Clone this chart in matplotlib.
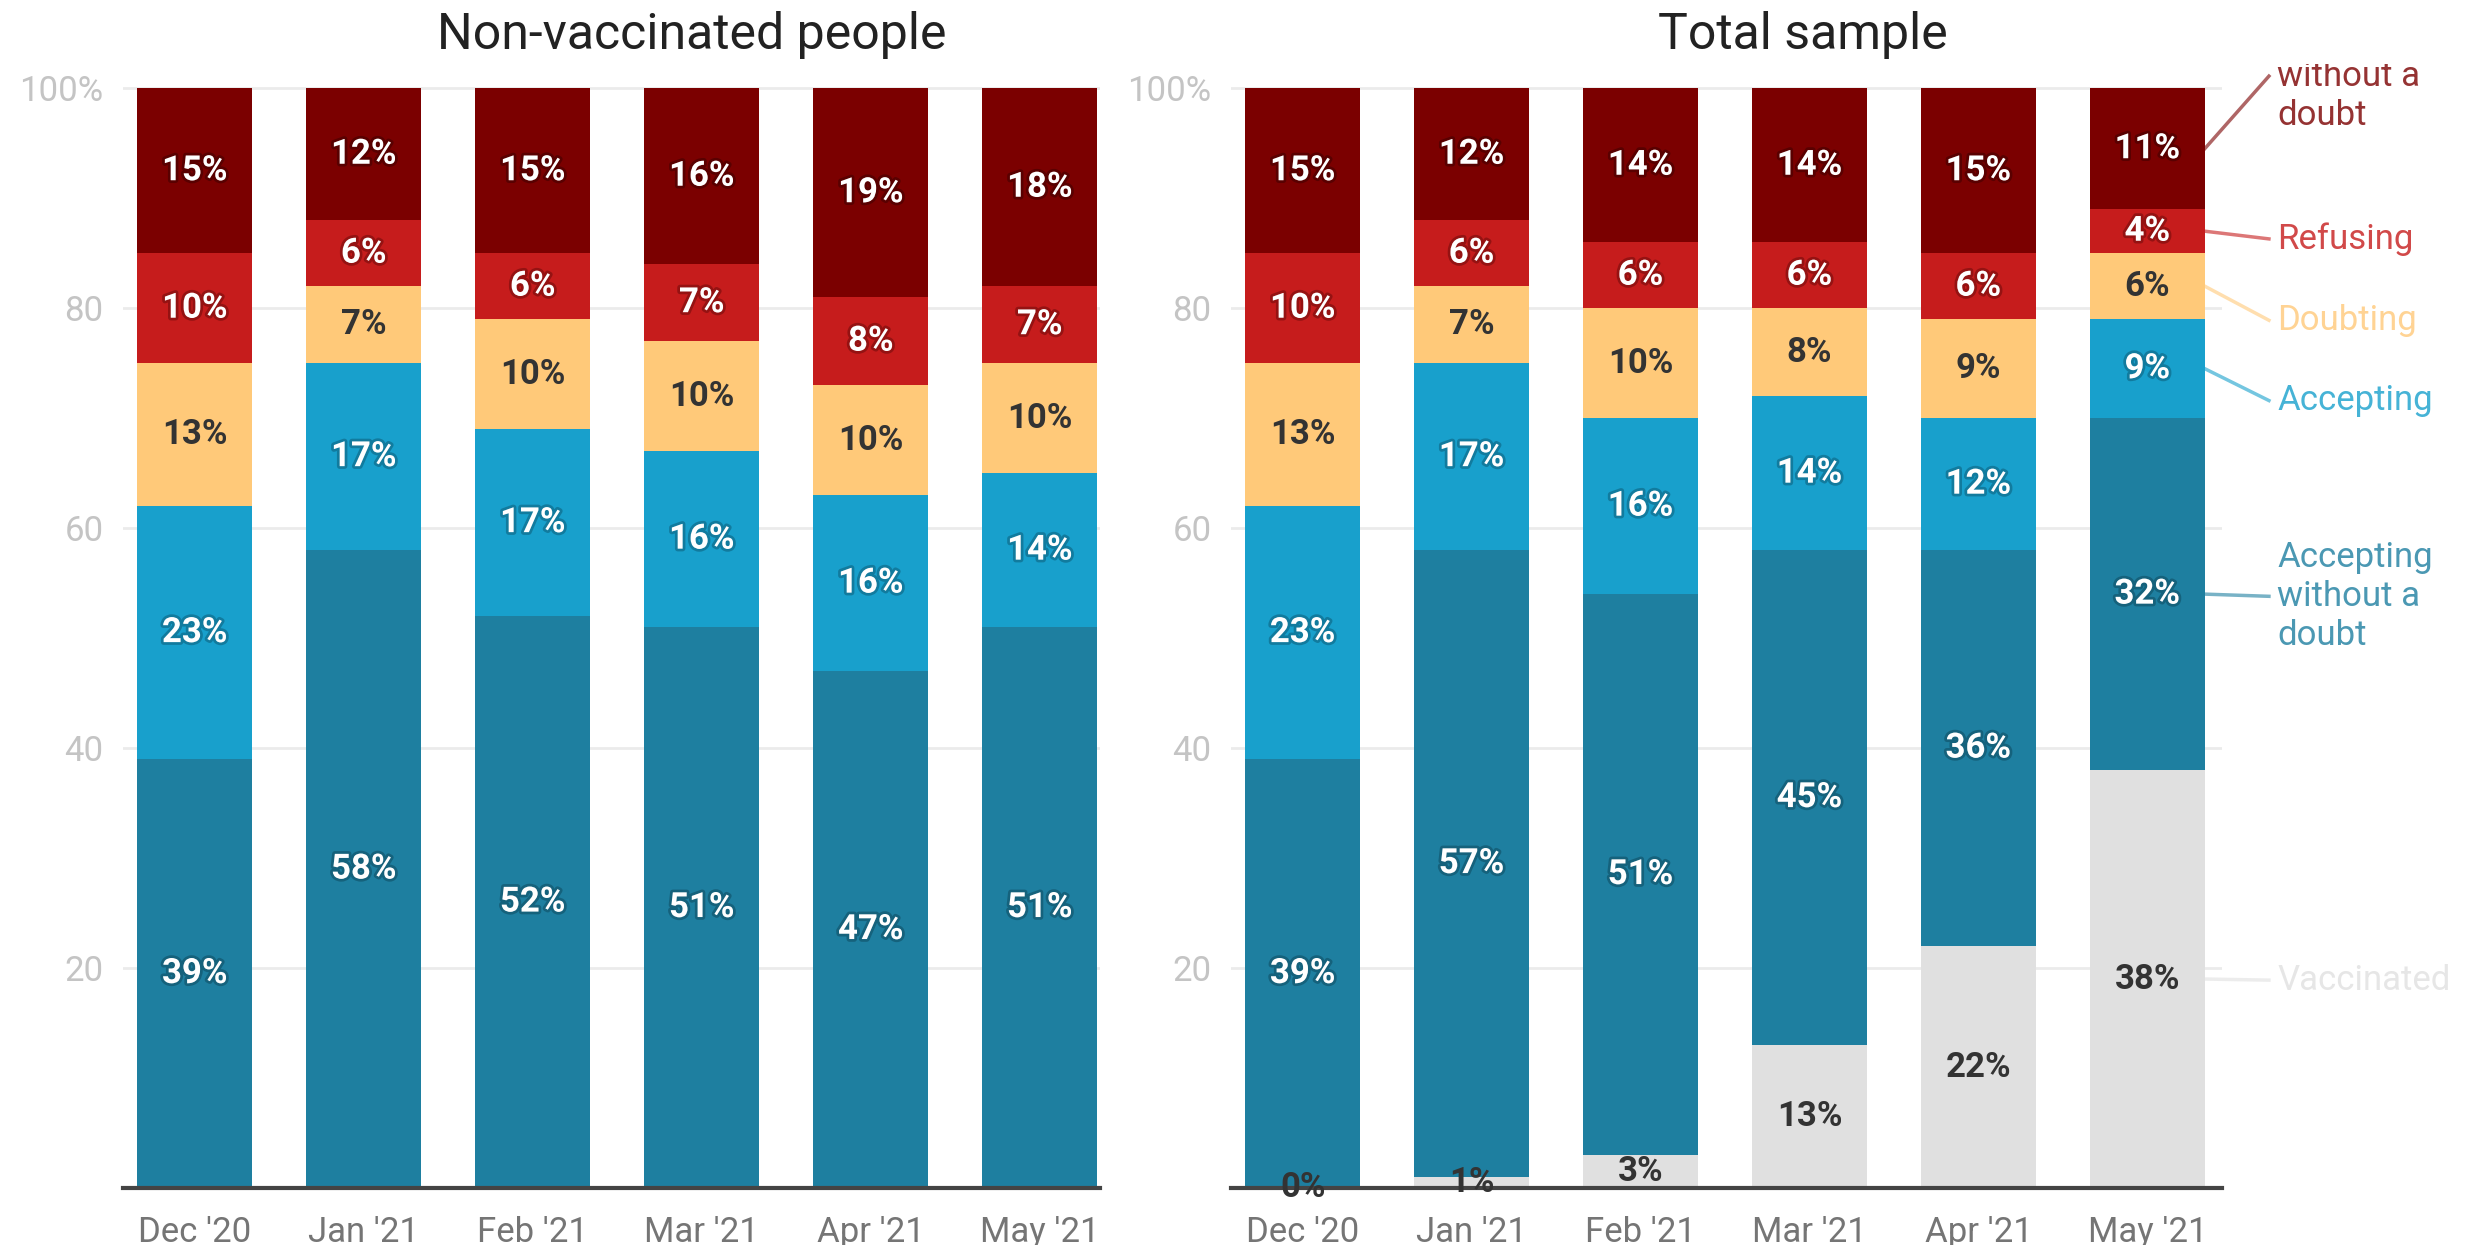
import numpy as np
import matplotlib
matplotlib.use('Agg')
import matplotlib.pyplot as plt
import matplotlib.patheffects as pe
from matplotlib.transforms import Bbox, TransformedBbox

plt.rcParams['font.family'] = ['Roboto', 'DejaVu Sans']

months = ["Dec '20", "Jan '21", "Feb '21", "Mar '21", "Apr '21", "May '21"]

# Non-vaccinated people (%), bottom to top
nv_accept_sure = [39, 58, 52, 51, 47, 51]
nv_accept = [23, 17, 17, 16, 16, 14]
nv_doubt = [13, 7, 10, 10, 10, 10]
nv_refuse = [10, 6, 6, 7, 8, 7]
nv_refuse_sure = [15, 12, 15, 16, 19, 18]

# Total sample (%), bottom to top
ts_vaccinated = [0, 1, 3, 13, 22, 38]
ts_accept_sure = [39, 57, 51, 45, 36, 32]
ts_accept = [23, 17, 16, 14, 12, 9]
ts_doubt = [13, 7, 10, 8, 9, 6]
ts_refuse = [10, 6, 6, 6, 6, 4]
ts_refuse_sure = [15, 12, 14, 14, 15, 11]

series_names = ['Vaccinated', 'Accepting\nwithout a\ndoubt', 'Accepting',
                'Doubting', 'Refusing', 'Refusing\nwithout a\ndoubt']
colors = ['#e0e0e0', '#1e7fa0', '#18a0cc', '#ffc979', '#c61c1c', '#7b0000']
text_colors = ['#333333', 'white', 'white', '#333333', 'white', 'white']
halo_colors = [None, '#0b3f52', '#0a4f68', None, '#5a0808', '#300000']

# where the right-hand series labels sit (y in data units)
legend_y = [18.9, 53.8, 71.6, 78.9, 86.3, 101.1]

bar_w = 0.68

fig = plt.figure(figsize=(24.74, 12.45), dpi=100)
ax1 = fig.add_axes([0.0497, 0.0458, 0.3949, 0.8851])
ax2 = fig.add_axes([0.4976, 0.0458, 0.4006, 0.8851])


def stacked(ax, layers, cols, tcols, hcols):
    x = np.arange(len(months))
    bottom = np.zeros(len(months))
    for vals, c, tc, hc in zip(layers, cols, tcols, hcols):
        vals = np.array(vals, dtype=float)
        ax.bar(x, vals, width=bar_w, bottom=bottom, color=c, linewidth=0, zorder=2)
        effects = [pe.withStroke(linewidth=4, foreground=hc, alpha=0.45)] if hc else None
        for xi, b, v in zip(x, bottom, vals):
            ax.text(xi, b + v / 2, f'{v:.0f}%', ha='center', va='center',
                    fontsize=25, fontweight='bold', color=tc, zorder=5,
                    path_effects=effects)
        bottom += vals
    return bottom


stacked(ax1, [nv_accept_sure, nv_accept, nv_doubt, nv_refuse, nv_refuse_sure],
        colors[1:], text_colors[1:], halo_colors[1:])
stacked(ax2, [ts_vaccinated, ts_accept_sure, ts_accept, ts_doubt, ts_refuse, ts_refuse_sure],
        colors, text_colors, halo_colors)

for ax, xlim in ((ax1, (-0.425, 5.356)), (ax2, (-0.424, 5.443))):
    ax.set_xlim(*xlim)
    ax.set_ylim(0, 100.2)
    ax.set_xticks(np.arange(len(months)))
    ax.set_xticklabels(months)
    ax.set_yticks([20, 40, 60, 80, 100])
    ax.set_yticklabels(['20', '40', '60', '80', '100%'])
    ax.grid(axis='y', color='#ebebeb', linewidth=2, zorder=0)
    ax.set_axisbelow(True)
    ax.tick_params(axis='y', length=0, pad=14, labelsize=25, labelcolor='#c4c4c4')
    ax.tick_params(axis='x', length=0, pad=20, labelsize=25, labelcolor='#757575')
    for s in ['top', 'right', 'left']:
        ax.spines[s].set_visible(False)
    ax.spines['bottom'].set_color('#444444')
    ax.spines['bottom'].set_linewidth(3)
    ax.spines['bottom'].set_zorder(4)

ax1.text(0.582, 1.046, 'Non-vaccinated people', transform=ax1.transAxes,
         ha='center', va='center', fontsize=36, color='#222222')
ax2.text(0.577, 1.046, 'Total sample', transform=ax2.transAxes,
         ha='center', va='center', fontsize=36, color='#222222')

# series labels with leader lines on the right of the last bar
last = len(months) - 1
layers_last = [ts_vaccinated[last], ts_accept_sure[last], ts_accept[last],
               ts_doubt[last], ts_refuse[last], ts_refuse_sure[last]]
mid = np.cumsum(layers_last) - np.array(layers_last) / 2
clip = TransformedBbox(Bbox([[0, 0], [1, 0.9486]]), fig.transFigure)
for name, c, y0, y1 in zip(series_names, colors, mid, legend_y):
    ax2.plot([last + bar_w / 2, last + 0.72], [y0, y1], color=c, alpha=0.6,
             linewidth=2.5, clip_on=False, zorder=3)
    t = ax2.text(last + 0.77, y1, name, ha='left', va='center', fontsize=25,
                 color=c, alpha=0.8, linespacing=1.22)
    t.set_clip_box(clip)
    t.set_clip_on(True)

fig.savefig('out.png', dpi=100)
